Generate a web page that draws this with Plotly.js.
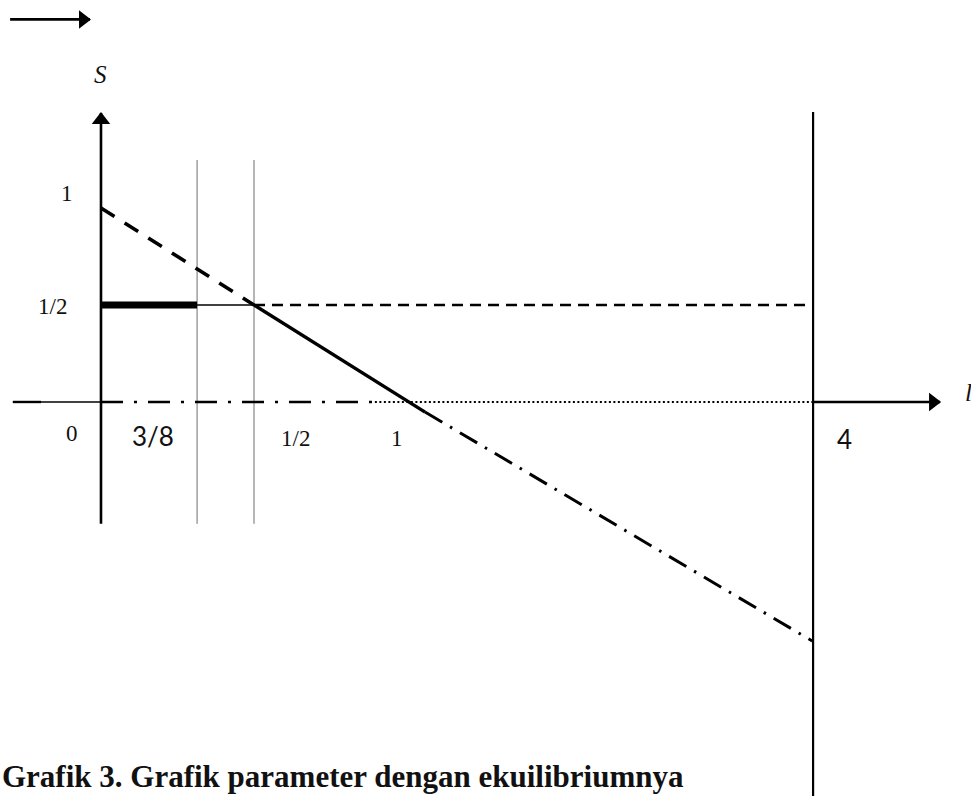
<!DOCTYPE html>
<html>
<head>
<meta charset="utf-8">
<script src="https://cdn.plot.ly/plotly-3.0.1.min.js"></script>
<style>html,body{margin:0;padding:0;background:#fff;}#chart{width:971px;height:796px;}</style>
</head>
<body>
<div id="chart"></div>
<script>
// ---- Data (diagram units: l horizontal, S vertical) ----
const lTickLabels = ['0', '3/8', '1/2', '1', '4'];
const lTickVals   = [0, 0.314, 0.5, 1.0, 2.327];
const sTickLabels = ['1', '1/2'];
const sTickVals   = [1, 0.5];

// upper dashed branch S = 1 - l  (from l=0 to l=1/2)
const upperL = [0, 0.5];
const upperS = [1, 0.5];
// stable solid branch
const stableL = [0.5, 1.059];
const stableS = [0.5, -0.052];
// dash-dot continuation up to l = 4 line
const extL = [1.059, 2.324];
const extS = [-0.052, -1.232];
// S = 1/2 level pieces
const halfThickL = [0, 0.314];
const halfThinL  = [0.314, 0.5];
const halfDashL  = [0.5, 2.322];
const halfS = 0.5;
// S = 0 axis pieces
const zeroDashDotL = [0, 0.895];
const zeroDotL     = [0.895, 2.327];
const zeroArrowL   = [2.327, 2.742];
const zeroLeftL    = [-0.288, 0];
const zeroLeftThickL = [-0.288, -0.196];
// vertical extents
const sAxisS   = [-0.628, 1.49];
const thinVS   = [-0.628, 1.247];
const fourVS   = [-2.1, 1.495];
// top-left direction arrow
const topArrowL = [-0.297, -0.036];
const topArrowS = 1.972;

// ---- Geometry ----
const W = 971, H = 796;
const xr = [-0.330, 2.843], yr = [-2.031, 2.072];
const pxX = W / (xr[1] - xr[0]);
const pxY = H / (yr[1] - yr[0]);
const BLK = '#000';

function seg(x, y, width, dash, color) {
  return {type: 'scatter', mode: 'lines', x: x, y: y, hoverinfo: 'skip',
          line: {color: color || BLK, width: width, dash: dash || 'solid'}};
}
function head(x, y, sym, size) {
  return {type: 'scatter', mode: 'markers', x: [x], y: [y], hoverinfo: 'skip',
          marker: {symbol: sym, size: size, color: BLK, line: {width: 0}}};
}

const traces = [
  // thin vertical guides at 3/8 and 1/2
  seg([lTickVals[1], lTickVals[1]], thinVS, 1, 'solid', '#6e6e6e'),
  seg([lTickVals[2], lTickVals[2]], thinVS, 1, 'solid', '#6e6e6e'),
  // l = 4 vertical
  seg([lTickVals[4], lTickVals[4]], fourVS, 2.2),
  // S axis
  seg([0, 0], sAxisS, 2.6),
  // S = 0 line
  seg(zeroLeftL, [0, 0], 1.3),
  seg(zeroLeftThickL, [0, 0], 2.4),
  seg(zeroDashDotL, [0, 0], 2.6, '22px,11px,3px,11px'),
  seg(zeroDotL, [0, 0], 1.8, '2px,2.5px'),
  seg(zeroArrowL, [0, 0], 2.6),
  // S = 1/2 level
  seg(halfThickL, [halfS, halfS], 7),
  seg(halfThinL, [halfS, halfS], 1.6),
  seg(halfDashL, [halfS, halfS], 2.4, '11px,7px'),
  // branches
  seg(upperL, upperS, 3.6, '16px,12px'),
  seg(stableL, stableS, 3.4),
  seg(extL, extS, 3, '20px,9px,2.5px,9px'),
  // top-left arrow
  seg(topArrowL, [topArrowS, topArrowS], 2.6),
  // arrowheads
  head(zeroArrowL[1] - 7 / pxX, 0, 'triangle-right', 16),
  head(0, sAxisS[1] - 7 / pxY, 'triangle-up', 16),
  head(topArrowL[1] - 7 / pxX, topArrowS, 'triangle-right', 16)
];

const serif = 'Liberation Serif, serif';
const sans = 'Lato, Liberation Sans, sans-serif';
function lab(text, x, y, size, family, extra) {
  return Object.assign({text: text, x: x, y: y, xref: 'x', yref: 'y', showarrow: false,
    xanchor: 'center', yanchor: 'middle', font: {family: family, size: size, color: '#111'}}, extra || {});
}

const annotations = [
  lab(sTickLabels[0], -0.111, 1.077, 23, serif),
  lab(sTickLabels[1], -0.157, 0.49, 23, serif),
  lab(lTickLabels[0], -0.095, -0.16, 23, serif),
  lab(lTickLabels[1], 0.17, -0.175, 26, sans),
  lab(lTickLabels[2], 0.637, -0.19, 23, serif),
  lab(lTickLabels[3], 0.967, -0.19, 23, serif),
  lab(lTickLabels[4], 2.428, -0.19, 26, sans),
  lab('<i>S</i>', -0.003, 1.686, 25, serif),
  lab('<i>l</i>', 2.835, 0.05, 25, serif),
  {text: '<b>Grafik 3. Grafik parameter dengan ekuilibriumnya</b>', x: 0, y: 0,
   xref: 'paper', yref: 'paper', xanchor: 'left', yanchor: 'bottom', yshift: 0, showarrow: false,
   font: {family: serif, size: 31, color: '#111'}}
];

const layout = {
  width: W, height: H,
  margin: {l: 0, r: 0, t: 0, b: 0, pad: 0},
  paper_bgcolor: '#fff', plot_bgcolor: '#fff',
  showlegend: false,
  xaxis: {range: xr, visible: false, fixedrange: true},
  yaxis: {range: yr, visible: false, fixedrange: true},
  annotations: annotations
};

Plotly.newPlot('chart', traces, layout, {displayModeBar: false, staticPlot: true});
</script>
</body>
</html>
